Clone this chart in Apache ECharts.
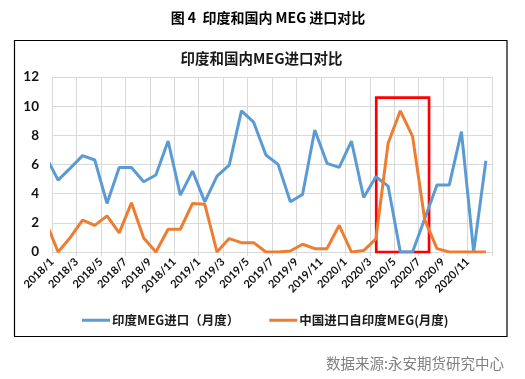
<!DOCTYPE html>
<html>
<head>
<meta charset="utf-8">
<script src="https://cdn.jsdelivr.net/npm/echarts@6/dist/echarts.min.js"></script>
<style>html,body{margin:0;padding:0;background:#fff}#c{width:525px;height:379px}</style>
</head>
<body>
<div id="c"></div>
<script>
// Months (first entry lies just left of the plotted window, as in the reference)
var months = ['2017/12',
  '2018/1','2018/2','2018/3','2018/4','2018/5','2018/6','2018/7','2018/8','2018/9','2018/10','2018/11','2018/12',
  '2019/1','2019/2','2019/3','2019/4','2019/5','2019/6','2019/7','2019/8','2019/9','2019/10','2019/11','2019/12',
  '2020/1','2020/2','2020/3','2020/4','2020/5','2020/6','2020/7','2020/8','2020/9','2020/10','2020/11','2020/12'];
var indiaImports = [6.55,
  4.93,5.75,6.61,6.31,3.33,5.80,5.80,4.82,5.28,7.61,3.90,5.55,
  3.44,5.21,5.96,9.68,8.90,6.65,6.01,3.44,3.94,8.37,6.08,5.80,
  7.60,3.74,5.16,4.52,0,0,2.30,4.59,4.59,8.26,0,6.26];
var chinaFromIndia = [2.06,
  0,1.00,2.18,1.83,2.48,1.31,3.37,0.96,0,1.56,1.56,3.33,
  3.28,0,0.92,0.64,0.64,0,0,0.07,0.53,0.23,0.23,1.83,
  0,0.10,0.90,7.46,9.68,7.93,2.20,0.23,0,0,0,0];
var yTicks = [0,2,4,6,8,10,12];
var seriesNames = ['印度MEG进口（月度）','中国进口自印度MEG(月度)'];
// highlighted window (month-slot coordinates, value range)
var highlight = {x0: 26.53, x1: 30.85, y0: 0, y1: 10.58};

function toXY(arr){ return arr.map(function(v,i){ return [i - 0.5, v]; }); }

var chart = echarts.init(document.getElementById('c'), null, {renderer:'canvas'});
var CJK = '"Noto Sans CJK SC", sans-serif';
var NUM = 'Lato, "Noto Sans CJK SC", sans-serif';
chart.setOption({
  animation:false,
  backgroundColor:'#fff',
  grid:{left:52, right:33, top:77, bottom:127, containLabel:false},
  xAxis:{
    type:'value', min:0, max:36, interval:2,
    axisLine:{show:true, lineStyle:{color:'#d9d9d9', width:1}},
    axisTick:{show:true, length:4, lineStyle:{color:'#d9d9d9'}},
    splitLine:{show:true, lineStyle:{color:'#d9d9d9', width:1}},
    axisLabel:{
      rotate:45, margin:8, fontSize:11, fontWeight:'bold', color:'#111', fontFamily:NUM,
      showMaxLabel:true, showMinLabel:true,
      formatter:function(v){ var m = months[v+1]; return (v < 36 && m) ? m : ''; }
    }
  },
  yAxis:{
    type:'value', min:yTicks[0], max:yTicks[yTicks.length-1], interval:2,
    axisLine:{show:false}, axisTick:{show:false},
    splitLine:{show:true, lineStyle:{color:'#d9d9d9', width:1}},
    axisLabel:{margin:13, fontSize:13.5, fontWeight:'bold', color:'#111', fontFamily:NUM}
  },
  legend:{
    data:seriesNames, left:77, top:309, icon:'rect', itemWidth:28, itemHeight:3, itemGap:30,
    textStyle:{fontSize:12.5, fontWeight:'bold', color:'#1a1a1a', fontFamily:CJK, padding:[0,0,0,-3]}
  },
  series:[
    {name:seriesNames[0], type:'line', data:toXY(indiaImports), showSymbol:false, symbol:'none',
     clip:true, lineStyle:{color:'#5b9bd5', width:3}, itemStyle:{color:'#5b9bd5'}, z:3},
    {name:seriesNames[1], type:'line', data:toXY(chinaFromIndia), showSymbol:false, symbol:'none',
     clip:true, lineStyle:{color:'#ed7d31', width:3}, itemStyle:{color:'#ed7d31'}, z:4},
    {name:'highlight', type:'line', data:[], z:10, silent:true,
     markArea:{silent:true, itemStyle:{color:'rgba(0,0,0,0)', borderColor:'#ff0000', borderWidth:2.7},
       data:[[{xAxis:highlight.x0, yAxis:highlight.y1},{xAxis:highlight.x1, yAxis:highlight.y0}]]}}
  ],
  graphic:[
    {type:'rect', silent:true, shape:{x:14.5, y:40.5, width:492.5, height:296},
     style:{fill:'none', stroke:'#000', lineWidth:1.2}},
    {type:'text', silent:true, style:{x:268, y:18, text:'图 4  印度和国内 MEG 进口对比', textAlign:'center', textVerticalAlign:'middle',
      font:'bold 14px "Noto Sans CJK SC", sans-serif', fill:'#000'}},
    {type:'text', silent:true, style:{x:261.5, y:58.5, text:'印度和国内MEG进口对比', textAlign:'center', textVerticalAlign:'middle',
      font:'bold 14.5px "Noto Sans CJK SC", sans-serif', fill:'#1a1a1a'}},
    {type:'text', silent:true, style:{x:504, y:363, text:'数据来源:永安期货研究中心', textAlign:'right', textVerticalAlign:'middle',
      font:'14.5px "Noto Sans CJK SC", sans-serif', fill:'#808080'}}
  ]
});
</script>
</body>
</html>
